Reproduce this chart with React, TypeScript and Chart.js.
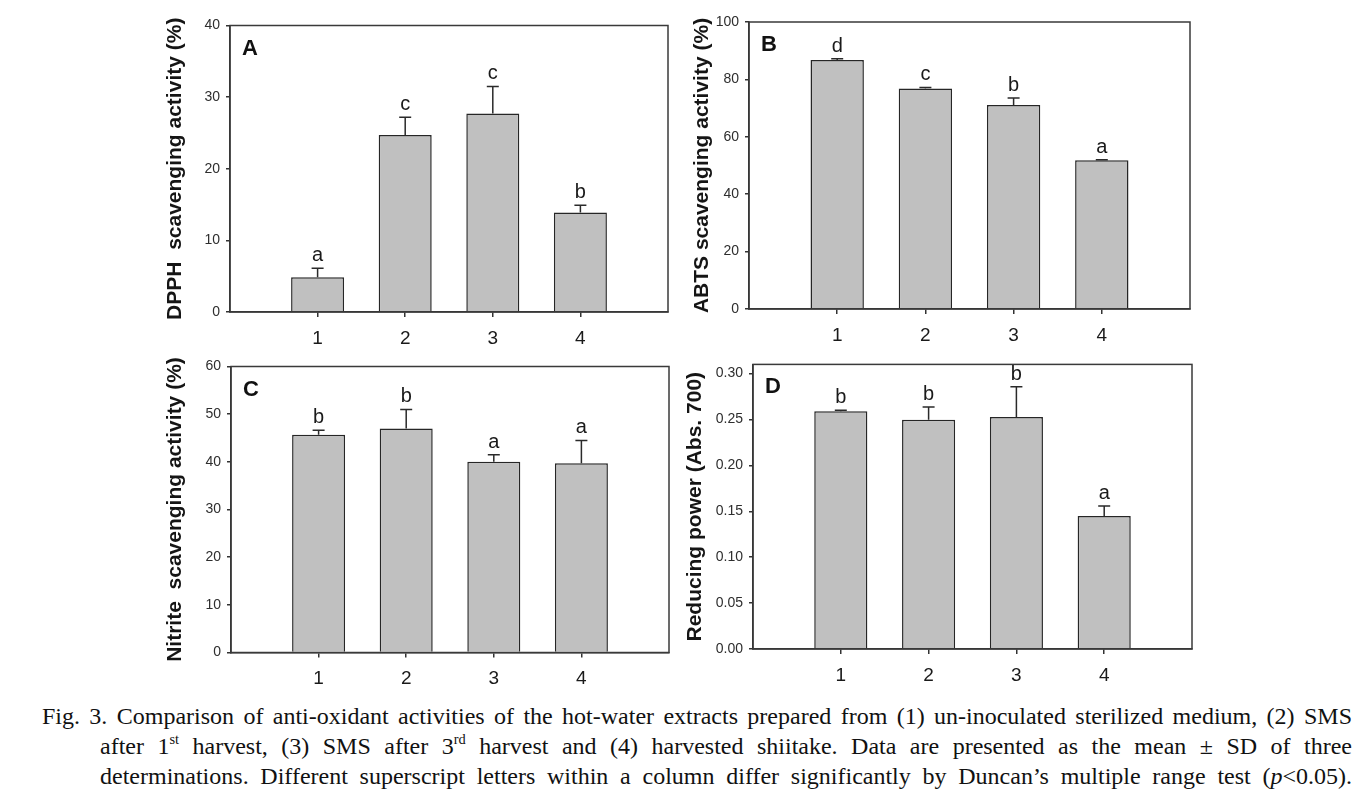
import React, { useEffect, useRef } from "react";
import { Chart, registerables } from "chart.js";

Chart.register(...registerables);

// ---------------- data ----------------
const groups = [1, 2, 3, 4];
const groupLabels = ["1", "2", "3", "4"];

const dpphMean = [4.85, 24.7, 27.7, 13.9];
const dpphSd = [1.25, 2.5, 3.8, 1.0];
const dpphLetters = ["a", "c", "c", "b"];

const abtsMean = [86.8, 76.8, 71.1, 51.8];
const abtsSd = [0.4, 0.4, 2.4, 0.2];
const abtsLetters = ["d", "c", "b", "a"];

const nitriteMean = [45.7, 47.0, 40.0, 39.7];
const nitriteSd = [0.9, 4.0, 1.5, 4.8];
const nitriteLetters = ["b", "b", "a", "a"];

const reducingMean = [0.259, 0.2497, 0.2526, 0.1448];
const reducingSd = [0.001, 0.014, 0.033, 0.011];
const reducingLetters = ["b", "b", "b", "a"];

const SANS = "'Liberation Sans', Arial, sans-serif";

// ---------------- plugins ----------------
const framePlugin = {
  id: "frame",
  afterDatasetsDraw(chart: any) {
    const { ctx, chartArea } = chart;
    ctx.save();
    ctx.strokeStyle = "#3a3a3a";
    ctx.lineWidth = 1.5;
    ctx.strokeRect(chartArea.left, chartArea.top, chartArea.right - chartArea.left, chartArea.bottom - chartArea.top);
    ctx.restore();
  },
};

const errorBarPlugin = {
  id: "errorBars",
  afterDatasetsDraw(chart: any, _args: any, opts: any) {
    const { ctx, chartArea } = chart;
    const meta = chart.getDatasetMeta(0);
    const yScale = chart.scales.y;
    const ds = chart.data.datasets[0];
    ctx.save();
    meta.data.forEach((el: any, i: number) => {
      const v = ds.data[i].y;
      const sd = opts.sd[i];
      const base = yScale.getPixelForValue(v);
      const top = yScale.getPixelForValue(v + sd);
      ctx.strokeStyle = "#2a2a2a";
      ctx.lineWidth = 1.5;
      ctx.beginPath();
      ctx.moveTo(el.x, base);
      ctx.lineTo(el.x, top);
      ctx.moveTo(el.x - 6, top);
      ctx.lineTo(el.x + 6, top);
      ctx.stroke();
      ctx.fillStyle = "#1a1a1a";
      ctx.font = `20px ${SANS}`;
      ctx.textAlign = "center";
      ctx.textBaseline = "alphabetic";
      ctx.fillText(opts.letters[i], el.x, top - 7);
    });
    ctx.fillStyle = "#111";
    ctx.font = `bold 22px ${SANS}`;
    ctx.textAlign = "left";
    ctx.textBaseline = "alphabetic";
    ctx.fillText(opts.panel, chartArea.left + 12, chartArea.top + 29);
    ctx.restore();
  },
};

// ---------------- panels ----------------
type PanelCfg = {
  panel: string;
  title: string;
  mean: number[];
  sd: number[];
  letters: string[];
  yMax: number;
  yStep: number;
  decimals: number;
  left: number;
  top: number;
  w: number;
  h: number;
  yWidth: number;
  xHeight: number;
  padTop: number;
  padRight: number;
  titlePad: number;
};

const panels: PanelCfg[] = [
  {
    panel: "A", title: "DPPH  scavenging activity (%)", mean: dpphMean, sd: dpphSd, letters: dpphLetters,
    yMax: 40, yStep: 10, decimals: 0,
    left: 150, top: 0, w: 530, h: 362, yWidth: 80, xHeight: 50, padTop: 25.5, padRight: 12, titlePad: 12.4,
  },
  {
    panel: "B", title: "ABTS scavenging activity (%)", mean: abtsMean, sd: abtsSd, letters: abtsLetters,
    yMax: 100, yStep: 20, decimals: 0,
    left: 680, top: 0, w: 530, h: 362, yWidth: 69, xHeight: 53, padTop: 22, padRight: 20, titlePad: 9.4,
  },
  {
    panel: "C", title: "Nitrite  scavenging activity (%)", mean: nitriteMean, sd: nitriteSd, letters: nitriteLetters,
    yMax: 60, yStep: 10, decimals: 0,
    left: 150, top: 350, w: 530, h: 350, yWidth: 81, xHeight: 47.5, padTop: 16.5, padRight: 11, titlePad: 12.4,
  },
  {
    panel: "D", title: "Reducing power (Abs. 700)", mean: reducingMean, sd: reducingSd, letters: reducingLetters,
    yMax: 0.31, yStep: 0.05, decimals: 2,
    left: 680, top: 350, w: 530, h: 350, yWidth: 73, xHeight: 51, padTop: 12, padRight: 18, titlePad: 2.4,
  },
];

function Panel({ cfg }: { cfg: PanelCfg }) {
  const ref = useRef<HTMLCanvasElement>(null);
  useEffect(() => {
    const chart = new Chart(ref.current as HTMLCanvasElement, {
      type: "bar",
      data: {
        datasets: [
          {
            data: groups.map((g, i) => ({ x: g, y: cfg.mean[i] })),
            backgroundColor: "#c0c0c0",
            borderColor: "#262626",
            borderWidth: 1.5,
            barPercentage: 0.605,
            categoryPercentage: 1,
          },
        ],
      },
      options: {
        animation: false,
        responsive: false,
        events: [],
        layout: { padding: { left: 0, top: cfg.padTop, right: cfg.padRight, bottom: 0 } },
        plugins: {
          legend: { display: false },
          tooltip: { enabled: false },
          errorBars: { sd: cfg.sd, letters: cfg.letters, panel: cfg.panel },
        } as any,
        scales: {
          x: {
            type: "linear",
            min: 0,
            max: 5,
            offset: false,
            grid: { display: true, offset: false, drawOnChartArea: false, drawTicks: true, tickLength: 5, color: "#333", lineWidth: 1.5 },
            border: { display: true, color: "#333", width: 1.5 },
            ticks: {
              padding: 10,
              color: "#1a1a1a",
              font: { family: SANS, size: 19 },
              callback: (v: any) => groupLabels[groups.indexOf(Number(v))] ?? "",
            },
            afterBuildTicks: (s: any) => {
              s.ticks = groups.map((g) => ({ value: g }));
            },
            afterFit: (s: any) => {
              s.height = cfg.xHeight;
            },
          },
          y: {
            type: "linear",
            min: 0,
            max: cfg.yMax,
            grid: { display: true, drawOnChartArea: false, drawTicks: true, tickLength: 4, color: "#333", lineWidth: 1.5 },
            border: { display: true, color: "#333", width: 1.5 },
            ticks: {
              stepSize: cfg.yStep,
              includeBounds: false,
              padding: 6,
              color: "#2e2e2e",
              font: { family: SANS, size: 14 },
              callback: (v: any) => Number(v).toFixed(cfg.decimals),
            },
            title: {
              display: true,
              text: cfg.title,
              color: "#151515",
              font: { family: SANS, size: 21, weight: "bold" },
              padding: { top: cfg.titlePad, bottom: 0 },
            },
            afterFit: (s: any) => {
              s.width = cfg.yWidth;
            },
          },
        },
      } as any,
      plugins: [framePlugin, errorBarPlugin],
    });
    return () => chart.destroy();
  }, [cfg]);
  return (
    <canvas
      ref={ref}
      width={cfg.w}
      height={cfg.h}
      style={{ position: "absolute", left: cfg.left, top: cfg.top, width: cfg.w, height: cfg.h }}
    />
  );
}

const lineStyle: React.CSSProperties = { textAlign: "justify", textAlignLast: "justify" as any, height: 30 };
const supStyle: React.CSSProperties = { fontSize: "0.6em", verticalAlign: "0.7em", lineHeight: 0 };

export default function App() {
  return (
    <div
      style={{ position: "absolute", left: 0, top: 0, width: 1365, height: 799, background: "#fff", overflow: "hidden" }}
    >
      {panels.map((p) => (
        <Panel key={p.panel} cfg={p} />
      ))}
      <div
        style={{
          position: "absolute",
          left: 42,
          top: 701,
          width: 1310,
          fontFamily: "'Liberation Serif', 'Times New Roman', serif",
          fontSize: 24,
          lineHeight: "30px",
          color: "#111",
        }}
      >
        <div style={lineStyle}>
          Fig. 3. Comparison of anti-oxidant activities of the hot-water extracts prepared from (1) un-inoculated sterilized medium, (2) SMS
        </div>
        <div style={{ ...lineStyle, marginLeft: 58 }}>
          after 1<span style={supStyle}>st</span> harvest, (3) SMS after 3<span style={supStyle}>rd</span> harvest and (4) harvested shiitake. Data are presented as the mean ± SD of three
        </div>
        <div style={{ ...lineStyle, marginLeft: 58 }}>
          determinations. Different superscript letters within a column differ significantly by Duncan’s multiple range test (<i>p</i>&lt;0.05).
        </div>
      </div>
    </div>
  );
}
